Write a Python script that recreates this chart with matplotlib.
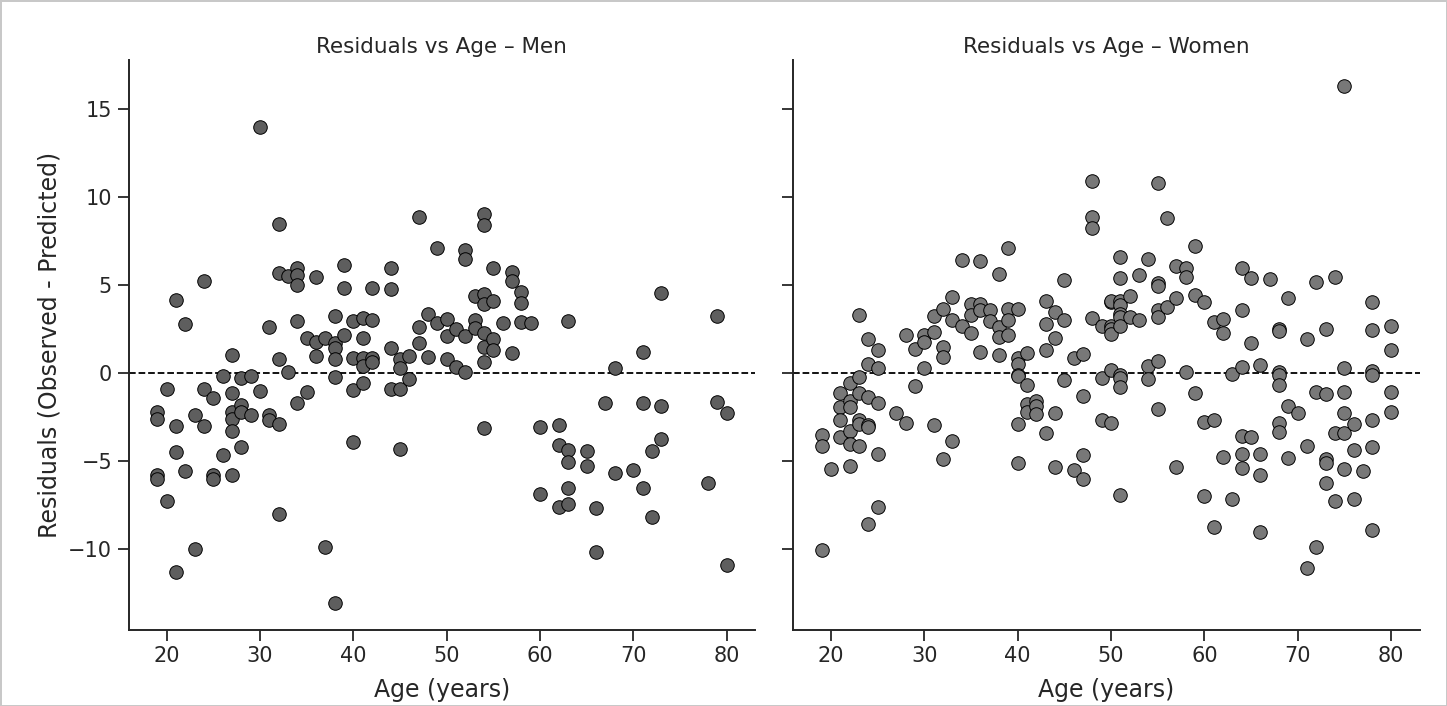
import numpy as np
import matplotlib
matplotlib.use('Agg')
import matplotlib.pyplot as plt
import seaborn as sns

# residuals, grouped by age
men_ages = [19, 20, 21, 22, 23, 24, 25, 26, 27, 28, 29, 30, 31, 32, 33, 34, 35, 36, 37, 38,
            39, 40, 41, 42, 44, 45, 46, 47, 48, 49, 50, 51, 52, 53, 54, 55, 56, 57, 58, 59,
            60, 62, 63, 65, 66, 67, 68, 70, 71, 72, 73, 78, 79, 80]
men_resid = [
    [-2.2, -2.6, -5.8, -6.05],
    [-0.92, -7.25],
    [4.15, -3.0, -4.5, -11.3],
    [2.8, -5.6],
    [-2.37, -10.0],
    [5.25, -0.92, -3.0],
    [-1.44, -5.8, -6.05],
    [-0.15, -4.65],
    [1.0, -1.15, -2.2, -2.6, -3.3, -5.8],
    [-0.3, -1.83, -2.2, -4.2],
    [-0.15, -2.4],
    [14.0, -1.0],
    [2.6, -2.4, -2.7],
    [8.46, 5.7, 0.77, -2.9, -8.0],
    [5.5, 0.08],
    [6.0, 5.6, 5.0, 2.94, -1.7],
    [2.0, -1.06],
    [5.44, 1.77, 0.96],
    [2.0, -9.87],
    [3.27, 1.69, 1.44, 0.77, -0.23, -13.1],
    [6.15, 4.85, 2.17],
    [2.98, 0.87, -0.96, -3.9],
    [3.13, 1.98, 0.87, 0.38, -0.58],
    [4.85, 3.0, 0.87, 0.6],
    [5.96, 4.77, 1.44, -0.9],
    [0.77, 0.29, -0.9, -4.3],
    [0.96, -0.35],
    [8.9, 2.63, 1.73],
    [3.33, 0.92],
    [7.1, 2.83],
    [3.1, 2.1, 0.8],
    [2.5, 0.33],
    [7.0, 6.5, 2.1, 0.04],
    [4.37, 3.02, 2.54],
    [9.04, 8.4, 4.5, 3.94, 2.27, 1.5, 0.63, -3.1],
    [5.96, 4.08, 1.96, 1.3],
    [2.83],
    [5.77, 5.23, 1.15],
    [4.6, 4.0, 2.88],
    [2.83],
    [-3.08, -6.88],
    [-2.98, -4.1, -7.6],
    [2.98, -4.37, -5.06, -6.54, -7.46],
    [-4.46, -5.3],
    [-7.65, -10.2],
    [-1.73],
    [0.27, -5.7],
    [-5.5],
    [1.19, -1.69, -6.56],
    [-4.42, -8.2],
    [4.56, -1.88, -3.77],
    [-6.25],
    [3.27, -1.67],
    [-2.27, -10.9],
]

women_ages = [19, 20, 21, 22, 23, 24, 25, 27, 28, 29, 30, 31, 32, 33, 34, 35, 36, 37, 38, 39,
              40, 41, 42, 43, 44, 45, 46, 47, 48, 49, 50, 51, 52, 53, 54, 55, 56, 57, 58, 59,
              60, 61, 62, 63, 64, 65, 66, 67, 68, 69, 70, 71, 72, 73, 74, 75, 76, 77, 78, 80]
women_resid = [
    [-3.5, -4.17, -10.04],
    [-5.48],
    [-1.12, -1.92, -2.65, -3.65],
    [-0.54, -1.58, -1.92, -3.27, -4.04, -5.29],
    [3.3, -0.23, -1.12, -2.7, -2.88, -4.13],
    [1.96, 0.54, -1.35, -2.98, -3.08, -8.6],
    [1.3, 0.29, -1.7, -4.6, -7.6],
    [-2.3],
    [2.15, -2.85],
    [1.38, -0.71],
    [2.15, 1.77, 0.29],
    [3.27, 2.35, -2.98],
    [3.65, 1.5, 0.92, -4.9],
    [4.33, 3.04, -3.88],
    [6.44, 2.65],
    [3.94, 3.3, 2.27],
    [6.35, 3.94, 3.56, 1.19],
    [3.56, 2.98],
    [5.63, 2.6, 2.02, 1.0],
    [7.1, 3.65, 3.02, 2.15],
    [3.65, 0.87, 0.52, -0.1, -0.19, -2.92, -5.13],
    [1.12, -0.67, -1.77, -2.2],
    [-1.58, -1.88, -2.35],
    [4.08, 2.79, 1.3, -3.4],
    [3.46, 2.0, -2.27, -5.35],
    [5.29, 3.04, -0.42],
    [0.88, -5.52],
    [1.06, -1.3, -4.65, -6.0],
    [10.9, 8.9, 8.23, 3.13],
    [2.7, -0.29, -2.65],
    [4.04, 4.08, 2.7, 2.5, 2.2, 0.19, -2.85],
    [6.58, 5.38, 4.08, 3.85, 3.37, 3.17, 2.7, -0.1, -0.29, -0.77, -6.92],
    [4.37, 3.17],
    [5.58, 3.02],
    [6.48, 0.38, -0.35],
    [10.8, 5.1, 4.96, 3.56, 3.17, 0.71, -2.02],
    [8.8, 3.75],
    [6.1, 4.27, -5.33],
    [5.96, 5.48, 0.06],
    [7.2, 4.42, -1.15],
    [4.04, -2.79, -6.98],
    [2.88, -2.69, -8.75],
    [3.08, 2.3, -4.8],
    [-0.06, -7.15],
    [6.0, 3.6, 0.33, -3.56, -4.6, -5.38],
    [5.38, 1.73, -3.65],
    [0.44, -4.6, -5.8, -9.04],
    [5.35],
    [2.5, 2.38, 0.04, -0.1, -0.67, -2.83, -3.37],
    [4.27, -1.87, -4.81],
    [-2.3],
    [1.92, -4.17, -11.1],
    [5.15, -1.06, -9.9],
    [2.5, -1.19, -4.9, -5.1, -6.25],
    [5.44, -3.42, -7.25],
    [16.3, 0.27, -1.1, -2.27, -3.42, -5.44],
    [-2.92, -4.37, -7.15],
    [-5.58],
    [4.04, 2.46, 0.1, -0.1, -2.69, -4.19, -8.94],
    [2.65, 1.3, -1.1, -2.2],
]


def flatten(ages, resid):
    x = []
    y = []
    for a, vals in zip(ages, resid):
        for v in vals:
            x.append(a)
            y.append(v)
    return np.array(x), np.array(y)


sns.set_theme(style='ticks')
plt.rcParams['font.family'] = ['DejaVu Sans']

fig, axes = plt.subplots(1, 2, figsize=(14.47, 7.06), dpi=100, sharey=True)
fig.subplots_adjust(left=0.089, right=0.981, top=0.915, bottom=0.108, wspace=0.061)
fig.patch.set_edgecolor('#c8c8c8')
fig.patch.set_linewidth(2)

panels = [
    (axes[0], men_ages, men_resid, '#5e5e5e', 'Residuals vs Age \u2013 Men'),
    (axes[1], women_ages, women_resid, '#787878', 'Residuals vs Age \u2013 Women'),
]

for ax, ages, resid, color, title in panels:
    x, y = flatten(ages, resid)
    ax.scatter(x, y, s=95, c=color, edgecolors='black', linewidths=0.7, zorder=3)
    ax.axhline(0, color='black', linestyle='--', linewidth=1.3, zorder=2)
    ax.set_title(title, fontsize=15.5, pad=5)
    ax.set_xlabel('Age (years)', fontsize=17, labelpad=8)
    ax.tick_params(axis='both', labelsize=15, length=8, width=1.3, pad=4, color='#262626')
    ax.set_xticks([20, 30, 40, 50, 60, 70, 80])
    for side in ['left', 'bottom']:
        ax.spines[side].set_linewidth(1.4)
        ax.spines[side].set_color('#262626')
    sns.despine(ax=ax)

axes[0].set_xlim(15.95, 83.05)
axes[1].set_xlim(15.95, 83.05)
axes[0].set_ylim(-14.6, 17.8)
axes[0].set_yticks([-10, -5, 0, 5, 10, 15])
axes[0].set_ylabel('Residuals (Observed - Predicted)', fontsize=17, labelpad=5)

plt.savefig('out.png', dpi=100)
